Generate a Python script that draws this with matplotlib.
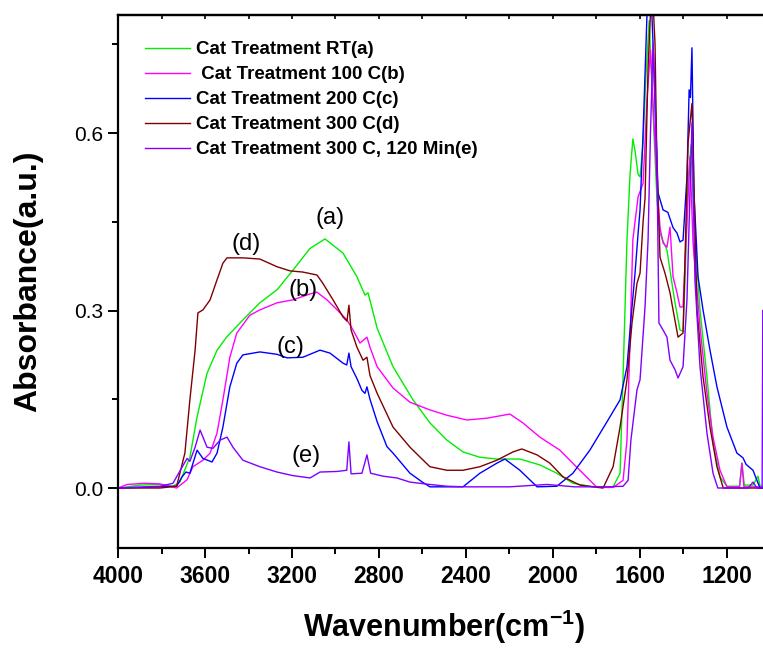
import numpy as np
from matplotlib import pyplot as plt

plt.rcParams['mathtext.fontset'] = 'custom'
plt.rcParams['mathtext.rm'] = 'Liberation Sans'
plt.rcParams['mathtext.bf'] = 'Liberation Sans:bold'

# spectra: wavenumber (cm-1) and absorbance
wn_a = [4000, 3900, 3808, 3748, 3716, 3670, 3637, 3591, 3545, 3499, 3426, 3348, 3269, 3196,
        3117, 3048, 2965, 2901, 2864, 2850, 2808, 2735, 2643, 2565, 2487, 2413, 2335, 2257,
        2151, 2059, 1981, 1907, 1815, 1722, 1690, 1676, 1658, 1644, 1631, 1621, 1607, 1598,
        1584, 1571, 1556, 1540, 1520, 1506, 1474, 1451, 1437, 1414, 1400, 1391, 1377, 1363,
        1350, 1322, 1290, 1262, 1230, 1198, 1140, 1129, 1118, 1078, 1055, 1045, 1032]
abs_a = [0.0, 0.005, 0.006, 0.003, 0.01, 0.052, 0.12, 0.194, 0.233, 0.256, 0.284, 0.313, 0.335, 0.368,
         0.405, 0.421, 0.397, 0.357, 0.326, 0.33, 0.27, 0.205, 0.149, 0.110, 0.081, 0.061, 0.052, 0.049,
         0.049, 0.039, 0.025, 0.008, 0.002, 0.002, 0.025, 0.19, 0.42, 0.53, 0.59, 0.57, 0.53, 0.526,
         0.583, 0.695, 0.79, 0.65, 0.487, 0.43, 0.402, 0.346, 0.313, 0.267, 0.265, 0.35, 0.52, 0.58,
         0.45, 0.301, 0.188, 0.076, 0.019, 0.003, 0.003, 0.042, 0.005, 0.005, 0.02, 0.003, 0.003]

wn_b = [4000, 3959, 3880, 3808, 3731, 3683, 3656, 3610, 3577, 3545, 3518, 3486, 3454, 3394,
        3348, 3269, 3196, 3117, 3085, 3039, 2992, 2947, 2919, 2887, 2855, 2841, 2808, 2735,
        2657, 2565, 2487, 2395, 2303, 2197, 2137, 2059, 1967, 1875, 1796, 1722, 1676, 1658,
        1644, 1631, 1607, 1584, 1566, 1550, 1538, 1520, 1506, 1492, 1474, 1460, 1446, 1428,
        1414, 1400, 1386, 1368, 1354, 1322, 1290, 1262, 1230, 1198, 1140, 1129, 1120, 1032]
abs_b = [0.0, 0.006, 0.008, 0.007, 0.0, 0.014, 0.036, 0.047, 0.059, 0.093, 0.149, 0.221, 0.262, 0.292,
         0.301, 0.313, 0.318, 0.328, 0.331, 0.318, 0.301, 0.284, 0.267, 0.245, 0.255, 0.238, 0.205, 0.169,
         0.145, 0.132, 0.123, 0.115, 0.118, 0.125, 0.11, 0.086, 0.064, 0.03, 0.001, 0.001, 0.013, 0.081,
         0.25, 0.42, 0.492, 0.515, 0.656, 0.74, 0.65, 0.515, 0.44, 0.414, 0.407, 0.441, 0.357, 0.33,
         0.306, 0.306, 0.42, 0.56, 0.414, 0.272, 0.16, 0.086, 0.03, 0.002, 0.002, 0.042, 0.002, 0.002]

wn_c = [4000, 3808, 3731, 3706, 3688, 3670, 3637, 3610, 3568, 3545, 3518, 3486, 3454, 3426,
        3348, 3269, 3223, 3150, 3071, 3025, 2965, 2948, 2938, 2928, 2901, 2878, 2864, 2855,
        2841, 2808, 2763, 2735, 2657, 2600, 2565, 2413, 2335, 2257, 2220, 2151, 2072, 1981,
        1907, 1829, 1750, 1690, 1658, 1635, 1621, 1607, 1598, 1584, 1566, 1550, 1538, 1529,
        1515, 1492, 1470, 1446, 1428, 1414, 1400, 1382, 1372, 1366, 1359, 1350, 1331, 1308,
        1276, 1244, 1198, 1152, 1124, 1110, 1078, 1046, 1032]
abs_c = [0.0, 0.002, 0.003, 0.019, 0.027, 0.025, 0.064, 0.05, 0.044, 0.059, 0.103, 0.171, 0.211, 0.225,
         0.23, 0.226, 0.22, 0.221, 0.233, 0.228, 0.211, 0.208, 0.228, 0.205, 0.185, 0.165, 0.16, 0.171,
         0.15, 0.112, 0.07, 0.059, 0.025, 0.01, 0.002, 0.002, 0.025, 0.042, 0.049, 0.03, 0.002, 0.003,
         0.025, 0.064, 0.112, 0.149, 0.205, 0.306, 0.363, 0.43, 0.47, 0.6, 0.80, 0.86, 0.75, 0.656,
         0.499, 0.47, 0.466, 0.44, 0.431, 0.416, 0.419, 0.526, 0.673, 0.66, 0.744, 0.5, 0.357, 0.301,
         0.233, 0.171, 0.103, 0.059, 0.051, 0.04, 0.03, 0.0, 0.0]

wn_d = [4000, 3808, 3731, 3716, 3693, 3670, 3646, 3633, 3610, 3577, 3545, 3518, 3499, 3426,
        3348, 3269, 3209, 3150, 3085, 3058, 3011, 2965, 2947, 2938, 2928, 2901, 2873, 2855,
        2841, 2808, 2735, 2657, 2610, 2565, 2487, 2413, 2335, 2257, 2183, 2142, 2072, 2013,
        1953, 1875, 1768, 1722, 1690, 1658, 1635, 1612, 1598, 1584, 1575, 1561, 1543, 1529,
        1520, 1506, 1483, 1460, 1446, 1423, 1400, 1377, 1359, 1336, 1308, 1276, 1244, 1215, 1032]
abs_d = [0.0, 0.0, 0.003, 0.025, 0.059, 0.149, 0.233, 0.296, 0.301, 0.318, 0.352, 0.38, 0.389, 0.389,
         0.387, 0.374, 0.367, 0.365, 0.36, 0.346, 0.318, 0.289, 0.282, 0.309, 0.267, 0.238, 0.216, 0.221,
         0.19, 0.16, 0.103, 0.069, 0.052, 0.036, 0.03, 0.03, 0.036, 0.047, 0.061, 0.066, 0.056, 0.042,
         0.019, 0.005, 0.0, 0.036, 0.103, 0.183, 0.279, 0.346, 0.363, 0.45, 0.49, 0.711, 0.86, 0.75,
         0.543, 0.39, 0.363, 0.33, 0.301, 0.255, 0.262, 0.583, 0.65, 0.301, 0.188, 0.103, 0.036, 0.0, 0.0]

wn_e = [4000, 3808, 3748, 3731, 3683, 3670, 3646, 3623, 3591, 3564, 3531, 3499, 3472, 3426,
        3348, 3269, 3196, 3117, 3071, 2992, 2948, 2938, 2928, 2878, 2855, 2838, 2781, 2717,
        2657, 2565, 2487, 2400, 2200, 2026, 1900, 1750, 1676, 1653, 1640, 1612, 1598, 1575,
        1561, 1550, 1538, 1520, 1511, 1492, 1474, 1460, 1437, 1423, 1400, 1382, 1359, 1345,
        1322, 1290, 1262, 1240, 1100, 1078, 1060, 1036, 1033]
abs_e = [0.0, 0.003, 0.008, 0.019, 0.05, 0.045, 0.069, 0.098, 0.069, 0.067, 0.081, 0.086, 0.069, 0.047,
         0.036, 0.027, 0.021, 0.017, 0.027, 0.028, 0.03, 0.078, 0.024, 0.025, 0.056, 0.025, 0.02, 0.017,
         0.01, 0.006, 0.003, 0.002, 0.002, 0.006, 0.002, 0.002, 0.003, 0.013, 0.081, 0.166, 0.183, 0.306,
         0.42, 0.6, 0.752, 0.543, 0.279, 0.267, 0.255, 0.216, 0.2, 0.186, 0.205, 0.318, 0.617, 0.35,
         0.205, 0.093, 0.025, 0.0, 0.0, 0.01, 0.0, 0.0, 0.3]

labels = ['Cat Treatment RT(a)', ' Cat Treatment 100 C(b)', 'Cat Treatment 200 C(c)',
          'Cat Treatment 300 C(d)', 'Cat Treatment 300 C, 120 Min(e)']
colors = ['#00ee00', '#ff00ff', '#0000ff', '#800000', '#8000ff']

# curve tags and where they sit
tags = ['(a)', '(b)', '(c)', '(d)', '(e)']
tag_wn = [3025, 3150, 3209, 3412, 3136]
tag_abs = [0.456, 0.335, 0.238, 0.412, 0.054]

font = ['Liberation Sans', 'DejaVu Sans']

fig = plt.figure(figsize=(7.63, 6.48), dpi=100)
ax = fig.add_axes([0.1549, 0.1543, 0.8451, 0.8225])

series = [(wn_a, abs_a), (wn_b, abs_b), (wn_c, abs_c), (wn_d, abs_d), (wn_e, abs_e)]
for (x, y), lab, col in zip(series, labels, colors):
    ax.plot(x, y, color=col, lw=1.0, label=lab)

for t, x, y in zip(tags, tag_wn, tag_abs):
    ax.text(x, y, t, fontsize=17, family=font, ha='center', va='center')

ax.set_xlim(4000, 1032)
ax.set_ylim(-0.1014, 0.7994)
xt = np.arange(4000, 1100, -400)
ax.set_xticks(xt)
ax.set_xticks(np.arange(4000, 1000, -200), minor=True)
ax.set_yticks([0.0, 0.3, 0.6])
ax.set_yticks([0.15, 0.45, 0.75], minor=True)
ax.set_yticklabels(['0.0', '0.3', '0.6'], fontsize=15, family=font)
ax.set_xticklabels([str(v) for v in xt], fontsize=16.5, family=font, fontweight='bold')

ax.spines['right'].set_visible(False)
for s in ['left', 'bottom', 'top']:
    ax.spines[s].set_linewidth(1.6)
ax.tick_params(axis='both', which='major', direction='out', length=7, width=1.4)
ax.tick_params(axis='both', which='minor', direction='out', length=4, width=1.4)
ax.tick_params(axis='x', pad=5)

top = ax.secondary_xaxis('top')
top.set_xticks(np.arange(4000, 1000, -200))
top.tick_params(direction='in', length=3, width=1.2, labeltop=False)
top.spines['top'].set_linewidth(1.6)

ax.set_xlabel('Wavenumber(cm$^{\\mathbf{-1}}$)', fontsize=22, family=font, fontweight='bold')
ax.xaxis.set_label_coords(0.505, -0.112)
ax.set_ylabel('Absorbance(a.u.)', fontsize=23, family=font, fontweight='bold')
ax.yaxis.set_label_coords(-0.1166, 0.5)

leg = ax.legend(loc='upper left', bbox_to_anchor=(145 / 763, 1 - 41 / 648),
                bbox_transform=fig.transFigure, frameon=False, borderpad=0, borderaxespad=0,
                handlelength=2.4, handletextpad=0.32, labelspacing=0.42,
                prop={'family': font, 'weight': 'bold', 'size': 13.5})

plt.savefig('out.png', dpi=100)
